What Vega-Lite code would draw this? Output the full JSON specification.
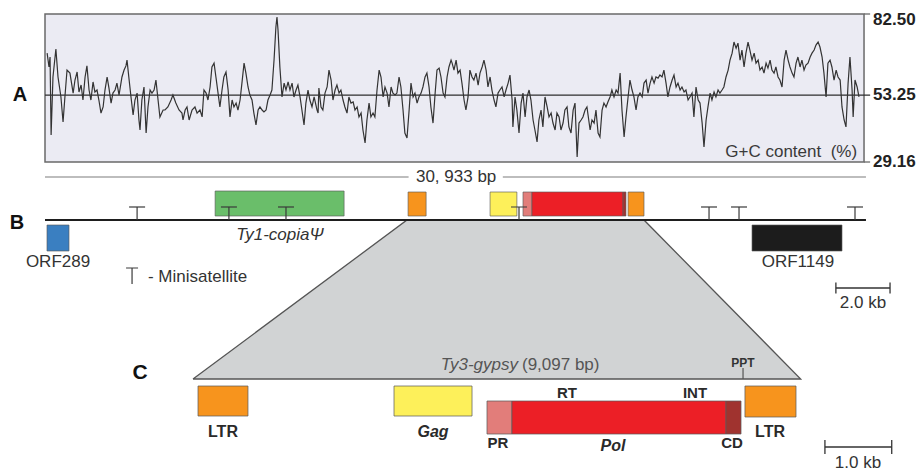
{
  "$schema": "https://vega.github.io/schema/vega-lite/v6.json",
  "width": 921,
  "height": 473,
  "padding": 0,
  "autosize": {"type": "none"},
  "background": "#ffffff",
  "config": {"view": {"stroke": null}, "font": "Liberation Sans", "axis": {"disable": true}},
  "datasets": {
    "gc": [
      {"kb":0.08,"gc":68.4},{"kb":0.15,"gc":63.4},{"kb":0.19,"gc":67.0},{"kb":0.23,"gc":38.9},{"kb":0.30,"gc":59.8},{"kb":0.41,"gc":69.9},{"kb":0.49,"gc":59.8},{"kb":0.60,"gc":52.6},{"kb":0.68,"gc":43.6},{"kb":0.75,"gc":52.6},{"kb":0.83,"gc":62.3},{"kb":0.94,"gc":61.2},{"kb":1.06,"gc":54.0},{"kb":1.13,"gc":58.7},{"kb":1.21,"gc":61.6},{"kb":1.28,"gc":54.4},{"kb":1.36,"gc":56.9},{"kb":1.43,"gc":51.5},{"kb":1.51,"gc":59.8},{"kb":1.58,"gc":63.8},{"kb":1.66,"gc":55.1},{"kb":1.73,"gc":51.5},{"kb":1.81,"gc":58.0},{"kb":1.88,"gc":54.4},{"kb":1.96,"gc":55.1},{"kb":2.03,"gc":51.5},{"kb":2.11,"gc":46.8},{"kb":2.19,"gc":49.0},{"kb":2.26,"gc":55.1},{"kb":2.34,"gc":59.8},{"kb":2.41,"gc":55.8},{"kb":2.49,"gc":50.4},{"kb":2.56,"gc":54.0},{"kb":2.64,"gc":55.1},{"kb":2.71,"gc":57.6},{"kb":2.79,"gc":53.3},{"kb":2.90,"gc":59.8},{"kb":2.98,"gc":62.3},{"kb":3.05,"gc":63.8},{"kb":3.09,"gc":65.9},{"kb":3.17,"gc":58.7},{"kb":3.24,"gc":52.6},{"kb":3.32,"gc":46.1},{"kb":3.39,"gc":51.5},{"kb":3.47,"gc":54.0},{"kb":3.54,"gc":44.3},{"kb":3.58,"gc":40.7},{"kb":3.65,"gc":51.5},{"kb":3.73,"gc":56.2},{"kb":3.81,"gc":39.6},{"kb":3.88,"gc":49.0},{"kb":3.96,"gc":55.1},{"kb":4.03,"gc":54.0},{"kb":4.11,"gc":55.1},{"kb":4.18,"gc":58.7},{"kb":4.26,"gc":51.5},{"kb":4.33,"gc":45.4},{"kb":4.45,"gc":47.9},{"kb":4.52,"gc":47.9},{"kb":4.63,"gc":49.0},{"kb":4.75,"gc":51.5},{"kb":4.82,"gc":53.3},{"kb":4.93,"gc":50.4},{"kb":5.05,"gc":47.9},{"kb":5.16,"gc":46.8},
      {"kb":5.20,"gc":44.3},{"kb":5.28,"gc":47.9},{"kb":5.35,"gc":49.0},{"kb":5.43,"gc":44.3},{"kb":5.54,"gc":47.9},{"kb":5.65,"gc":49.0},{"kb":5.73,"gc":46.8},{"kb":5.84,"gc":47.9},{"kb":5.92,"gc":45.4},{"kb":5.99,"gc":55.1},{"kb":6.07,"gc":54.0},{"kb":6.14,"gc":51.5},{"kb":6.22,"gc":56.2},{"kb":6.29,"gc":63.4},{"kb":6.37,"gc":64.8},{"kb":6.44,"gc":59.8},{"kb":6.52,"gc":54.0},{"kb":6.59,"gc":49.0},{"kb":6.67,"gc":55.1},{"kb":6.74,"gc":59.8},{"kb":6.82,"gc":61.6},{"kb":6.90,"gc":55.1},{"kb":6.97,"gc":45.4},{"kb":7.05,"gc":51.5},{"kb":7.12,"gc":49.0},{"kb":7.20,"gc":50.4},{"kb":7.27,"gc":47.9},{"kb":7.35,"gc":51.5},{"kb":7.42,"gc":57.6},{"kb":7.50,"gc":64.8},{"kb":7.57,"gc":61.2},{"kb":7.65,"gc":56.2},{"kb":7.72,"gc":53.3},{"kb":7.80,"gc":51.5},{"kb":7.87,"gc":46.8},{"kb":7.95,"gc":42.5},{"kb":8.03,"gc":47.9},{"kb":8.10,"gc":49.0},{"kb":8.18,"gc":47.9},{"kb":8.25,"gc":47.2},{"kb":8.33,"gc":47.9},{"kb":8.40,"gc":51.5},{"kb":8.48,"gc":53.3},{"kb":8.55,"gc":55.1},{"kb":8.63,"gc":65.9},{"kb":8.70,"gc":77.8},{"kb":8.74,"gc":81.4},{"kb":8.78,"gc":76.7},{"kb":8.85,"gc":63.4},{"kb":8.93,"gc":52.6},{"kb":9.01,"gc":57.6},{"kb":9.08,"gc":55.1},{"kb":9.16,"gc":58.0},{"kb":9.23,"gc":55.1},{"kb":9.31,"gc":57.6},{"kb":9.38,"gc":52.6},{"kb":9.46,"gc":55.1},{"kb":9.53,"gc":56.9},{"kb":9.61,"gc":52.6},{"kb":9.68,"gc":47.9},{"kb":9.76,"gc":42.5},{"kb":9.83,"gc":50.4},{"kb":9.91,"gc":55.1},{"kb":9.98,"gc":51.5},{"kb":10.06,"gc":49.0},{"kb":10.14,"gc":52.6},{"kb":10.25,"gc":47.9},
      {"kb":10.29,"gc":46.8},{"kb":10.32,"gc":55.8},{"kb":10.40,"gc":49.0},{"kb":10.47,"gc":47.9},{"kb":10.55,"gc":54.0},{"kb":10.63,"gc":56.2},{"kb":10.70,"gc":62.3},{"kb":10.78,"gc":58.7},{"kb":10.85,"gc":51.5},{"kb":10.93,"gc":55.1},{"kb":11.00,"gc":56.9},{"kb":11.08,"gc":54.0},{"kb":11.15,"gc":55.1},{"kb":11.23,"gc":51.5},{"kb":11.30,"gc":49.0},{"kb":11.38,"gc":46.8},{"kb":11.45,"gc":52.6},{"kb":11.53,"gc":50.4},{"kb":11.61,"gc":50.8},{"kb":11.68,"gc":47.9},{"kb":11.76,"gc":49.0},{"kb":11.83,"gc":45.4},{"kb":11.91,"gc":46.8},{"kb":11.98,"gc":40.7},{"kb":12.06,"gc":36.0},{"kb":12.13,"gc":44.3},{"kb":12.21,"gc":50.4},{"kb":12.28,"gc":45.4},{"kb":12.36,"gc":46.8},{"kb":12.43,"gc":45.4},{"kb":12.51,"gc":55.1},{"kb":12.59,"gc":62.3},{"kb":12.66,"gc":59.8},{"kb":12.74,"gc":52.6},{"kb":12.81,"gc":56.2},{"kb":12.89,"gc":54.0},{"kb":12.96,"gc":49.0},{"kb":13.04,"gc":56.2},{"kb":13.11,"gc":54.0},{"kb":13.19,"gc":53.3},{"kb":13.26,"gc":54.0},{"kb":13.34,"gc":59.8},{"kb":13.41,"gc":56.2},{"kb":13.49,"gc":47.9},{"kb":13.56,"gc":39.6},{"kb":13.64,"gc":37.8},{"kb":13.72,"gc":47.9},{"kb":13.79,"gc":57.6},{"kb":13.87,"gc":52.6},{"kb":13.94,"gc":54.0},{"kb":14.02,"gc":50.4},{"kb":14.09,"gc":52.6},{"kb":14.17,"gc":54.0},{"kb":14.24,"gc":56.2},{"kb":14.32,"gc":59.8},{"kb":14.39,"gc":61.2},{"kb":14.47,"gc":56.2},{"kb":14.54,"gc":49.0},{"kb":14.62,"gc":43.2},{"kb":14.70,"gc":54.0},{"kb":14.77,"gc":62.3},{"kb":14.85,"gc":63.0},{"kb":14.92,"gc":59.8},{"kb":15.00,"gc":54.0},{"kb":15.07,"gc":52.6},{"kb":15.15,"gc":59.8},{"kb":15.22,"gc":63.4},{"kb":15.30,"gc":65.9},
      {"kb":15.34,"gc":64.8},{"kb":15.41,"gc":62.3},{"kb":15.49,"gc":65.9},{"kb":15.56,"gc":61.2},{"kb":15.64,"gc":62.3},{"kb":15.71,"gc":57.6},{"kb":15.79,"gc":51.5},{"kb":15.86,"gc":47.9},{"kb":15.94,"gc":52.6},{"kb":16.01,"gc":62.3},{"kb":16.09,"gc":59.8},{"kb":16.16,"gc":58.7},{"kb":16.24,"gc":61.2},{"kb":16.32,"gc":56.9},{"kb":16.39,"gc":61.2},{"kb":16.47,"gc":63.4},{"kb":16.54,"gc":65.9},{"kb":16.62,"gc":62.3},{"kb":16.69,"gc":56.2},{"kb":16.77,"gc":59.8},{"kb":16.84,"gc":55.1},{"kb":16.92,"gc":51.5},{"kb":16.99,"gc":49.0},{"kb":17.07,"gc":54.0},{"kb":17.14,"gc":55.1},{"kb":17.22,"gc":56.2},{"kb":17.30,"gc":52.6},{"kb":17.37,"gc":55.1},{"kb":17.45,"gc":57.6},{"kb":17.52,"gc":60.5},{"kb":17.60,"gc":51.5},{"kb":17.63,"gc":41.8},{"kb":17.71,"gc":52.6},{"kb":17.78,"gc":47.9},{"kb":17.86,"gc":39.6},{"kb":17.94,"gc":50.4},{"kb":18.01,"gc":54.0},{"kb":18.09,"gc":45.4},{"kb":18.16,"gc":52.6},{"kb":18.24,"gc":55.1},{"kb":18.31,"gc":51.5},{"kb":18.39,"gc":44.3},{"kb":18.46,"gc":40.7},{"kb":18.54,"gc":36.4},{"kb":18.61,"gc":44.3},{"kb":18.69,"gc":47.9},{"kb":18.76,"gc":41.8},{"kb":18.84,"gc":52.6},{"kb":18.92,"gc":49.0},{"kb":18.99,"gc":45.4},{"kb":19.07,"gc":46.8},{"kb":19.14,"gc":43.2},{"kb":19.22,"gc":40.7},{"kb":19.29,"gc":46.8},{"kb":19.37,"gc":45.4},{"kb":19.44,"gc":40.7},{"kb":19.52,"gc":43.2},{"kb":19.59,"gc":47.9},{"kb":19.67,"gc":49.0},{"kb":19.74,"gc":41.8},{"kb":19.82,"gc":39.6},{"kb":19.90,"gc":47.9},{"kb":19.97,"gc":50.4},{"kb":20.05,"gc":31.0},{"kb":20.12,"gc":43.2},{"kb":20.20,"gc":44.3},{"kb":20.27,"gc":45.4},{"kb":20.35,"gc":47.9},{"kb":20.42,"gc":49.0},
      {"kb":20.54,"gc":40.7},{"kb":20.61,"gc":44.3},{"kb":20.69,"gc":43.2},{"kb":20.76,"gc":47.9},{"kb":20.84,"gc":39.6},{"kb":20.91,"gc":38.2},{"kb":20.99,"gc":47.9},{"kb":21.06,"gc":50.4},{"kb":21.14,"gc":49.0},{"kb":21.21,"gc":50.8},{"kb":21.29,"gc":52.6},{"kb":21.36,"gc":55.1},{"kb":21.44,"gc":52.6},{"kb":21.52,"gc":55.1},{"kb":21.59,"gc":54.0},{"kb":21.67,"gc":61.2},{"kb":21.74,"gc":47.9},{"kb":21.82,"gc":38.2},{"kb":21.89,"gc":45.4},{"kb":21.97,"gc":52.6},{"kb":22.04,"gc":58.7},{"kb":22.12,"gc":55.1},{"kb":22.19,"gc":52.6},{"kb":22.27,"gc":47.9},{"kb":22.34,"gc":52.6},{"kb":22.42,"gc":54.0},{"kb":22.50,"gc":52.6},{"kb":22.57,"gc":57.6},{"kb":22.65,"gc":58.7},{"kb":22.72,"gc":54.0},{"kb":22.80,"gc":57.6},{"kb":22.87,"gc":59.8},{"kb":22.95,"gc":57.6},{"kb":23.02,"gc":59.8},{"kb":23.10,"gc":59.4},{"kb":23.17,"gc":60.5},{"kb":23.25,"gc":59.8},{"kb":23.32,"gc":62.3},{"kb":23.40,"gc":57.6},{"kb":23.47,"gc":52.6},{"kb":23.55,"gc":56.2},{"kb":23.63,"gc":58.7},{"kb":23.70,"gc":60.5},{"kb":23.78,"gc":56.2},{"kb":23.85,"gc":57.6},{"kb":23.93,"gc":55.1},{"kb":24.00,"gc":56.2},{"kb":24.08,"gc":54.4},{"kb":24.15,"gc":55.1},{"kb":24.23,"gc":51.5},{"kb":24.30,"gc":52.6},{"kb":24.38,"gc":54.0},{"kb":24.45,"gc":45.4},{"kb":24.53,"gc":56.2},{"kb":24.61,"gc":51.5},{"kb":24.68,"gc":50.4},{"kb":24.76,"gc":43.2},{"kb":24.83,"gc":34.6},{"kb":24.91,"gc":44.3},{"kb":24.98,"gc":49.0},{"kb":25.06,"gc":54.0},{"kb":25.13,"gc":51.5},{"kb":25.21,"gc":54.4},{"kb":25.28,"gc":52.6},{"kb":25.36,"gc":55.1},{"kb":25.43,"gc":54.0},{"kb":25.51,"gc":55.1},{"kb":25.58,"gc":56.2},
      {"kb":25.66,"gc":59.8},{"kb":25.74,"gc":62.3},{"kb":25.81,"gc":65.9},{"kb":25.89,"gc":68.4},{"kb":25.96,"gc":72.4},{"kb":26.04,"gc":70.2},{"kb":26.11,"gc":72.0},{"kb":26.19,"gc":65.9},{"kb":26.26,"gc":69.5},{"kb":26.34,"gc":63.4},{"kb":26.41,"gc":68.4},{"kb":26.49,"gc":72.4},{"kb":26.56,"gc":69.5},{"kb":26.64,"gc":65.9},{"kb":26.72,"gc":68.4},{"kb":26.79,"gc":64.8},{"kb":26.87,"gc":65.9},{"kb":26.94,"gc":62.3},{"kb":27.02,"gc":63.4},{"kb":27.09,"gc":61.2},{"kb":27.17,"gc":64.8},{"kb":27.24,"gc":63.0},{"kb":27.32,"gc":65.9},{"kb":27.39,"gc":62.3},{"kb":27.47,"gc":61.2},{"kb":27.54,"gc":63.4},{"kb":27.62,"gc":59.8},{"kb":27.69,"gc":58.7},{"kb":27.77,"gc":56.2},{"kb":27.85,"gc":65.9},{"kb":27.92,"gc":69.5},{"kb":28.00,"gc":65.9},{"kb":28.07,"gc":63.4},{"kb":28.15,"gc":61.2},{"kb":28.22,"gc":59.8},{"kb":28.30,"gc":64.8},{"kb":28.37,"gc":67.0},{"kb":28.45,"gc":63.4},{"kb":28.52,"gc":65.9},{"kb":28.60,"gc":62.3},{"kb":28.67,"gc":64.1},{"kb":28.75,"gc":64.8},{"kb":28.83,"gc":67.0},{"kb":28.90,"gc":68.4},{"kb":28.98,"gc":69.5},{"kb":29.05,"gc":71.3},{"kb":29.13,"gc":72.4},{"kb":29.20,"gc":70.6},{"kb":29.28,"gc":67.0},{"kb":29.35,"gc":61.2},{"kb":29.43,"gc":52.6},{"kb":29.50,"gc":64.8},{"kb":29.58,"gc":65.9},{"kb":29.65,"gc":63.4},{"kb":29.73,"gc":58.7},{"kb":29.81,"gc":62.3},{"kb":29.88,"gc":59.8},{"kb":29.96,"gc":58.7},{"kb":30.03,"gc":49.0},{"kb":30.11,"gc":44.3},{"kb":30.18,"gc":41.8},{"kb":30.26,"gc":57.6},{"kb":30.33,"gc":67.0},{"kb":30.41,"gc":55.1},{"kb":30.45,"gc":45.4},{"kb":30.52,"gc":58.7},{"kb":30.60,"gc":56.2},{"kb":30.67,"gc":52.6}
    ],
    "panelA": [{"s": 0, "e": 30.86, "lo": 29.16, "hi": 82.5}],
    "gcTicks": [{"s": 30.86, "e": 31.09, "v": 82.5}, {"s": 30.86, "e": 31.09, "v": 29.16}],
    "gcMid": [{"s": 0, "e": 31.09, "v": 53.25}],
    "gcLabels": [{"v": 82.5, "t": "82.50"}, {"v": 53.25, "t": "53.25"}, {"v": 29.16, "t": "29.16"}],
    "aLetter": [{"x": -0.94, "y": 53.25, "t": "A"}],
    "gcTitle": [{"x": 30.6, "y": 32.76, "t": "G+C content\u00a0 (%)"}],
    "trap": [{"x": 0, "top": -15.9, "base": -15.9}, {"x": 3.204, "top": 0, "base": -15.9}, {"x": 6.751, "top": 0, "base": -15.9}, {"x": 9.097, "top": -15.9, "base": -15.9}],
    "trapEdge": [{"i": 1, "x": 0, "y": -15.9}, {"i": 2, "x": 3.204, "y": 0}, {"i": 3, "x": 6.751, "y": 0}, {"i": 4, "x": 9.097, "y": -15.9}, {"i": 5, "x": 0, "y": -15.9}],
    "backbone": [{"s": 0, "e": 30.933, "y": 0}],
    "lengthLine": [{"s": 0, "e": 13.7, "y": 4.3}, {"s": 17.25, "e": 30.933, "y": 4.3}],
    "bFeatures": [
      {"feat": "ORF289", "start": 0.075, "end": 0.904, "top": -0.5, "bot": -3.1},
      {"feat": "Ty1", "start": 6.41, "end": 11.27, "top": 2.9, "bot": 0.4},
      {"feat": "LTR", "start": 13.68, "end": 14.36, "top": 2.8, "bot": 0.4},
      {"feat": "Gag", "start": 16.77, "end": 17.78, "top": 2.8, "bot": 0.4},
      {"feat": "PR", "start": 18.01, "end": 18.35, "top": 2.8, "bot": 0.4},
      {"feat": "Pol", "start": 18.35, "end": 21.78, "top": 2.8, "bot": 0.4},
      {"feat": "CD", "start": 21.78, "end": 21.89, "top": 2.8, "bot": 0.4},
      {"feat": "LTR", "start": 21.97, "end": 22.57, "top": 2.8, "bot": 0.4},
      {"feat": "ORF1149", "start": 26.64, "end": 30.03, "top": -0.5, "bot": -3.1}
    ],
    "minisat": [{"pos": 3.47}, {"pos": 6.93}, {"pos": 9.08}, {"pos": 17.86}, {"pos": 25.02}, {"pos": 26.15}, {"pos": 30.52}],
    "msLegend": [{"x": 3.28, "top": -4.8, "bot": -6.4}],
    "bScale": [{"s": 29.8, "e": 31.84, "y": -6.8}],
    "bLetter": [{"x": -1.055, "y": -0.25, "t": "B"}],
    "bLabels": [{"x": 15.49, "y": 4.3, "t": "30, 933 bp"}, {"x": 0.49, "y": -4.2, "t": "ORF289"}, {"x": 28.37, "y": -4.2, "t": "ORF1149"}, {"x": 30.82, "y": -8.3, "t": "2.0 kb"}],
    "bItalic": [{"x": 8.85, "y": -1.5, "t": "Ty1-copiaΨ"}],
    "bLegendText": [{"x": 3.88, "y": -5.7, "t": "- Minisatellite"}],
    "cFeatures": [
      {"feat": "LTR", "start": 0.075, "end": 0.823, "top": -16.6, "bot": -19.6},
      {"feat": "Gag", "start": 3.009, "end": 4.177, "top": -16.6, "bot": -19.6},
      {"feat": "PR", "start": 4.401, "end": 4.775, "top": -18.1, "bot": -21.4},
      {"feat": "Pol", "start": 4.775, "end": 7.979, "top": -18.1, "bot": -21.4},
      {"feat": "CD", "start": 7.979, "end": 8.204, "top": -18.1, "bot": -21.4},
      {"feat": "LTR", "start": 8.263, "end": 9.027, "top": -16.6, "bot": -19.7}
    ],
    "ppt": [{"x": 8.234, "top": -14.8, "bot": -15.9}],
    "cScale": [{"s": 9.46, "e": 10.46, "y": -22.7}],
    "cLetter": [{"x": -0.793, "y": -15.3, "t": "C"}],
    "cTitleItalic": [{"x": 4.865, "y": -14.5, "t": "Ty3-gypsy"}],
    "cTitle": [{"x": 4.925, "y": -14.5, "t": "(9,097 bp)"}],
    "cBold15": [{"x": 5.599, "y": -17.3, "t": "RT"}, {"x": 7.515, "y": -17.3, "t": "INT"}, {"x": 4.566, "y": -22.3, "t": "PR"}, {"x": 8.069, "y": -22.3, "t": "CD"}],
    "cBold16": [{"x": 0.449, "y": -21.2, "t": "LTR"}, {"x": 8.638, "y": -21.2, "t": "LTR"}],
    "cBoldItalic": [{"x": 3.593, "y": -21.2, "t": "Gag"}, {"x": 6.287, "y": -22.6, "t": "Pol"}],
    "cSmall": [{"x": 8.234, "y": -14.3, "t": "PPT"}],
    "cReg": [{"x": 9.955, "y": -24.3, "t": "1.0 kb"}]
  },
  "resolve": {"scale": {"x": "independent", "y": "independent"}},
  "layer": [
    {
      "layer": [
        {"data": {"name": "panelA"}, "mark": {"type": "rect", "fill": "#ebebf3", "stroke": "#6a6a6a", "strokeWidth": 1.5},
         "encoding": {"x": {"field": "s", "type": "quantitative", "scale": {"domain": [-1.6956, 33.0068], "nice": false, "zero": false}, "axis": null}, "x2": {"field": "e"},
                      "y": {"field": "lo", "type": "quantitative", "scale": {"domain": [-82.92, 87.546], "nice": false, "zero": false}, "axis": null}, "y2": {"field": "hi"}}},
        {"data": {"name": "gcTicks"}, "mark": {"type": "rule", "stroke": "#6a6a6a", "strokeWidth": 1.3},
         "encoding": {"x": {"field": "s", "type": "quantitative", "scale": {"domain": [-1.6956, 33.0068], "nice": false, "zero": false}, "axis": null}, "x2": {"field": "e"},
                      "y": {"field": "v", "type": "quantitative", "scale": {"domain": [-82.92, 87.546], "nice": false, "zero": false}, "axis": null}}},
        {"data": {"name": "gcMid"}, "mark": {"type": "rule", "stroke": "#2e2e2e", "strokeWidth": 1.3},
         "encoding": {"x": {"field": "s", "type": "quantitative", "scale": {"domain": [-1.6956, 33.0068], "nice": false, "zero": false}, "axis": null}, "x2": {"field": "e"},
                      "y": {"field": "v", "type": "quantitative", "scale": {"domain": [-82.92, 87.546], "nice": false, "zero": false}, "axis": null}}},
        {"data": {"name": "gc"}, "mark": {"type": "line", "stroke": "#333333", "strokeWidth": 1.2},
         "encoding": {"x": {"field": "kb", "type": "quantitative", "scale": {"domain": [-1.6956, 33.0068], "nice": false, "zero": false}, "axis": null},
                      "y": {"field": "gc", "type": "quantitative", "scale": {"domain": [-82.92, 87.546], "nice": false, "zero": false}, "axis": null}}},
        {"data": {"name": "gcLabels"}, "transform": [{"filter": "datum.v > 80"}],
         "mark": {"type": "text", "font": "Liberation Sans", "fontWeight": "bold", "fontSize": 17, "align": "left", "baseline": "middle", "dy": 6, "fill": "#222222"},
         "encoding": {"x": {"datum": 31.2, "type": "quantitative", "scale": {"domain": [-1.6956, 33.0068], "nice": false, "zero": false}, "axis": null},
                      "y": {"field": "v", "type": "quantitative", "scale": {"domain": [-82.92, 87.546], "nice": false, "zero": false}, "axis": null}, "text": {"field": "t"}}},
        {"data": {"name": "gcLabels"}, "transform": [{"filter": "datum.v < 80"}],
         "mark": {"type": "text", "font": "Liberation Sans", "fontWeight": "bold", "fontSize": 17, "align": "left", "baseline": "middle", "fill": "#222222"},
         "encoding": {"x": {"datum": 31.2, "type": "quantitative", "scale": {"domain": [-1.6956, 33.0068], "nice": false, "zero": false}, "axis": null},
                      "y": {"field": "v", "type": "quantitative", "scale": {"domain": [-82.92, 87.546], "nice": false, "zero": false}, "axis": null}, "text": {"field": "t"}}},
        {"data": {"name": "aLetter"},
         "mark": {"type": "text", "font": "Liberation Sans", "fontWeight": "bold", "fontSize": 20, "align": "center", "baseline": "middle", "fill": "#111111"},
         "encoding": {"x": {"field": "x", "type": "quantitative", "scale": {"domain": [-1.6956, 33.0068], "nice": false, "zero": false}, "axis": null},
                      "y": {"field": "y", "type": "quantitative", "scale": {"domain": [-82.92, 87.546], "nice": false, "zero": false}, "axis": null}, "text": {"field": "t"}}},
        {"data": {"name": "gcTitle"},
         "mark": {"type": "text", "font": "Liberation Sans", "fontSize": 17, "align": "right", "baseline": "middle", "fill": "#3a3a3a"},
         "encoding": {"x": {"field": "x", "type": "quantitative", "scale": {"domain": [-1.6956, 33.0068], "nice": false, "zero": false}, "axis": null},
                      "y": {"field": "y", "type": "quantitative", "scale": {"domain": [-82.92, 87.546], "nice": false, "zero": false}, "axis": null}, "text": {"field": "t"}}}
      ]
    },
    {
      "layer": [
        {"data": {"name": "trap"}, "mark": {"type": "area", "fill": "#d1d3d4", "interpolate": "linear"},
         "encoding": {"x": {"field": "x", "type": "quantitative", "scale": {"domain": [-2.8892, 10.8982], "nice": false, "zero": false}, "axis": null},
                      "y": {"field": "top", "type": "quantitative", "scale": {"domain": [-25.3, 22], "nice": false, "zero": false}, "axis": null}, "y2": {"field": "base"}}},
        {"data": {"name": "trapEdge"}, "mark": {"type": "line", "stroke": "#555555", "strokeWidth": 1.3},
         "encoding": {"x": {"field": "x", "type": "quantitative", "scale": {"domain": [-2.8892, 10.8982], "nice": false, "zero": false}, "axis": null},
                      "y": {"field": "y", "type": "quantitative", "scale": {"domain": [-25.3, 22], "nice": false, "zero": false}, "axis": null}, "order": {"field": "i", "type": "quantitative"}}}
      ]
    },
    {
      "layer": [
        {"data": {"name": "lengthLine"}, "mark": {"type": "rule", "stroke": "#7d7d7d", "strokeWidth": 1.2},
         "encoding": {"x": {"field": "s", "type": "quantitative", "scale": {"domain": [-1.6956, 33.0068], "nice": false, "zero": false}, "axis": null}, "x2": {"field": "e"},
                      "y": {"field": "y", "type": "quantitative", "scale": {"domain": [-25.3, 22], "nice": false, "zero": false}, "axis": null}}},
        {"data": {"name": "backbone"}, "mark": {"type": "rule", "stroke": "#1e1e1e", "strokeWidth": 2},
         "encoding": {"x": {"field": "s", "type": "quantitative", "scale": {"domain": [-1.6956, 33.0068], "nice": false, "zero": false}, "axis": null}, "x2": {"field": "e"},
                      "y": {"field": "y", "type": "quantitative", "scale": {"domain": [-25.3, 22], "nice": false, "zero": false}, "axis": null}}},
        {"data": {"name": "bFeatures"}, "mark": {"type": "rect", "stroke": "#5a5a5a", "strokeWidth": 0.8, "strokeOpacity": 0.8},
         "encoding": {"x": {"field": "start", "type": "quantitative", "scale": {"domain": [-1.6956, 33.0068], "nice": false, "zero": false}, "axis": null}, "x2": {"field": "end"},
                      "y": {"field": "top", "type": "quantitative", "scale": {"domain": [-25.3, 22], "nice": false, "zero": false}, "axis": null}, "y2": {"field": "bot"},
                      "color": {"field": "feat", "type": "nominal", "legend": null, "scale": {"domain": ["ORF289", "Ty1", "LTR", "Gag", "PR", "Pol", "CD", "ORF1149"], "range": ["#3a7fc1", "#6abe6a", "#f7941d", "#fdf05a", "#e27d7a", "#ec1f26", "#a0332f", "#1c1c1c"]}}}},
        {"data": {"name": "minisat"}, "mark": {"type": "rule", "stroke": "#3a3a3a", "strokeWidth": 1.2},
         "encoding": {"x": {"field": "pos", "type": "quantitative", "scale": {"domain": [-1.6956, 33.0068], "nice": false, "zero": false}, "axis": null},
                      "y": {"datum": 0, "type": "quantitative", "scale": {"domain": [-25.3, 22], "nice": false, "zero": false}, "axis": null}, "y2": {"datum": 1.3}}},
        {"data": {"name": "minisat"}, "mark": {"type": "tick", "orient": "horizontal", "size": 16, "thickness": 1.2, "color": "#3a3a3a", "opacity": 1},
         "encoding": {"x": {"field": "pos", "type": "quantitative", "scale": {"domain": [-1.6956, 33.0068], "nice": false, "zero": false}, "axis": null},
                      "y": {"datum": 1.3, "type": "quantitative", "scale": {"domain": [-25.3, 22], "nice": false, "zero": false}, "axis": null}}},
        {"data": {"name": "msLegend"}, "mark": {"type": "rule", "stroke": "#3a3a3a", "strokeWidth": 1.2},
         "encoding": {"x": {"field": "x", "type": "quantitative", "scale": {"domain": [-1.6956, 33.0068], "nice": false, "zero": false}, "axis": null},
                      "y": {"field": "top", "type": "quantitative", "scale": {"domain": [-25.3, 22], "nice": false, "zero": false}, "axis": null}, "y2": {"field": "bot"}}},
        {"data": {"name": "msLegend"}, "mark": {"type": "tick", "orient": "horizontal", "size": 12, "thickness": 1.2, "color": "#3a3a3a", "opacity": 1},
         "encoding": {"x": {"field": "x", "type": "quantitative", "scale": {"domain": [-1.6956, 33.0068], "nice": false, "zero": false}, "axis": null},
                      "y": {"field": "top", "type": "quantitative", "scale": {"domain": [-25.3, 22], "nice": false, "zero": false}, "axis": null}}},
        {"data": {"name": "bScale"}, "mark": {"type": "rule", "stroke": "#333333", "strokeWidth": 1.3},
         "encoding": {"x": {"field": "s", "type": "quantitative", "scale": {"domain": [-1.6956, 33.0068], "nice": false, "zero": false}, "axis": null}, "x2": {"field": "e"},
                      "y": {"field": "y", "type": "quantitative", "scale": {"domain": [-25.3, 22], "nice": false, "zero": false}, "axis": null}}},
        {"data": {"name": "bScale"}, "mark": {"type": "tick", "orient": "vertical", "size": 11, "thickness": 1.3, "color": "#333333", "opacity": 1},
         "encoding": {"x": {"field": "s", "type": "quantitative", "scale": {"domain": [-1.6956, 33.0068], "nice": false, "zero": false}, "axis": null},
                      "y": {"field": "y", "type": "quantitative", "scale": {"domain": [-25.3, 22], "nice": false, "zero": false}, "axis": null}}},
        {"data": {"name": "bScale"}, "mark": {"type": "tick", "orient": "vertical", "size": 11, "thickness": 1.3, "color": "#333333", "opacity": 1},
         "encoding": {"x": {"field": "e", "type": "quantitative", "scale": {"domain": [-1.6956, 33.0068], "nice": false, "zero": false}, "axis": null},
                      "y": {"field": "y", "type": "quantitative", "scale": {"domain": [-25.3, 22], "nice": false, "zero": false}, "axis": null}}},
        {"data": {"name": "bLetter"},
         "mark": {"type": "text", "font": "Liberation Sans", "fontWeight": "bold", "fontSize": 20, "align": "center", "baseline": "middle", "fill": "#111111"},
         "encoding": {"x": {"field": "x", "type": "quantitative", "scale": {"domain": [-1.6956, 33.0068], "nice": false, "zero": false}, "axis": null},
                      "y": {"field": "y", "type": "quantitative", "scale": {"domain": [-25.3, 22], "nice": false, "zero": false}, "axis": null}, "text": {"field": "t"}}},
        {"data": {"name": "bLabels"},
         "mark": {"type": "text", "font": "Liberation Sans", "fontSize": 17, "align": "center", "baseline": "middle", "fill": "#333333"},
         "encoding": {"x": {"field": "x", "type": "quantitative", "scale": {"domain": [-1.6956, 33.0068], "nice": false, "zero": false}, "axis": null},
                      "y": {"field": "y", "type": "quantitative", "scale": {"domain": [-25.3, 22], "nice": false, "zero": false}, "axis": null}, "text": {"field": "t"}}},
        {"data": {"name": "bItalic"},
         "mark": {"type": "text", "font": "Liberation Sans", "fontStyle": "italic", "fontSize": 17, "align": "center", "baseline": "middle", "fill": "#333333"},
         "encoding": {"x": {"field": "x", "type": "quantitative", "scale": {"domain": [-1.6956, 33.0068], "nice": false, "zero": false}, "axis": null},
                      "y": {"field": "y", "type": "quantitative", "scale": {"domain": [-25.3, 22], "nice": false, "zero": false}, "axis": null}, "text": {"field": "t"}}},
        {"data": {"name": "bLegendText"},
         "mark": {"type": "text", "font": "Liberation Sans", "fontSize": 17, "align": "left", "baseline": "middle", "fill": "#333333"},
         "encoding": {"x": {"field": "x", "type": "quantitative", "scale": {"domain": [-1.6956, 33.0068], "nice": false, "zero": false}, "axis": null},
                      "y": {"field": "y", "type": "quantitative", "scale": {"domain": [-25.3, 22], "nice": false, "zero": false}, "axis": null}, "text": {"field": "t"}}}
      ]
    },
    {
      "layer": [
        {"data": {"name": "cFeatures"}, "mark": {"type": "rect", "stroke": "#5a5a5a", "strokeWidth": 0.9, "strokeOpacity": 0.8},
         "encoding": {"x": {"field": "start", "type": "quantitative", "scale": {"domain": [-2.8892, 10.8982], "nice": false, "zero": false}, "axis": null}, "x2": {"field": "end"},
                      "y": {"field": "top", "type": "quantitative", "scale": {"domain": [-25.3, 22], "nice": false, "zero": false}, "axis": null}, "y2": {"field": "bot"},
                      "color": {"field": "feat", "type": "nominal", "legend": null, "scale": {"domain": ["ORF289", "Ty1", "LTR", "Gag", "PR", "Pol", "CD", "ORF1149"], "range": ["#3a7fc1", "#6abe6a", "#f7941d", "#fdf05a", "#e27d7a", "#ec1f26", "#a0332f", "#1c1c1c"]}}}},
        {"data": {"name": "ppt"}, "mark": {"type": "rule", "stroke": "#555555", "strokeWidth": 1.2},
         "encoding": {"x": {"field": "x", "type": "quantitative", "scale": {"domain": [-2.8892, 10.8982], "nice": false, "zero": false}, "axis": null},
                      "y": {"field": "top", "type": "quantitative", "scale": {"domain": [-25.3, 22], "nice": false, "zero": false}, "axis": null}, "y2": {"field": "bot"}}},
        {"data": {"name": "cScale"}, "mark": {"type": "rule", "stroke": "#333333", "strokeWidth": 1.3},
         "encoding": {"x": {"field": "s", "type": "quantitative", "scale": {"domain": [-2.8892, 10.8982], "nice": false, "zero": false}, "axis": null}, "x2": {"field": "e"},
                      "y": {"field": "y", "type": "quantitative", "scale": {"domain": [-25.3, 22], "nice": false, "zero": false}, "axis": null}}},
        {"data": {"name": "cScale"}, "mark": {"type": "tick", "orient": "vertical", "size": 14, "thickness": 1.3, "color": "#333333", "opacity": 1},
         "encoding": {"x": {"field": "s", "type": "quantitative", "scale": {"domain": [-2.8892, 10.8982], "nice": false, "zero": false}, "axis": null},
                      "y": {"field": "y", "type": "quantitative", "scale": {"domain": [-25.3, 22], "nice": false, "zero": false}, "axis": null}}},
        {"data": {"name": "cScale"}, "mark": {"type": "tick", "orient": "vertical", "size": 14, "thickness": 1.3, "color": "#333333", "opacity": 1},
         "encoding": {"x": {"field": "e", "type": "quantitative", "scale": {"domain": [-2.8892, 10.8982], "nice": false, "zero": false}, "axis": null},
                      "y": {"field": "y", "type": "quantitative", "scale": {"domain": [-25.3, 22], "nice": false, "zero": false}, "axis": null}}},
        {"data": {"name": "cLetter"},
         "mark": {"type": "text", "font": "Liberation Sans", "fontWeight": "bold", "fontSize": 21, "align": "center", "baseline": "middle", "fill": "#111111"},
         "encoding": {"x": {"field": "x", "type": "quantitative", "scale": {"domain": [-2.8892, 10.8982], "nice": false, "zero": false}, "axis": null},
                      "y": {"field": "y", "type": "quantitative", "scale": {"domain": [-25.3, 22], "nice": false, "zero": false}, "axis": null}, "text": {"field": "t"}}},
        {"data": {"name": "cTitleItalic"},
         "mark": {"type": "text", "font": "Liberation Sans", "fontStyle": "italic", "fontSize": 17, "align": "right", "baseline": "middle", "fill": "#555555"},
         "encoding": {"x": {"field": "x", "type": "quantitative", "scale": {"domain": [-2.8892, 10.8982], "nice": false, "zero": false}, "axis": null},
                      "y": {"field": "y", "type": "quantitative", "scale": {"domain": [-25.3, 22], "nice": false, "zero": false}, "axis": null}, "text": {"field": "t"}}},
        {"data": {"name": "cTitle"},
         "mark": {"type": "text", "font": "Liberation Sans", "fontSize": 17, "align": "left", "baseline": "middle", "fill": "#555555"},
         "encoding": {"x": {"field": "x", "type": "quantitative", "scale": {"domain": [-2.8892, 10.8982], "nice": false, "zero": false}, "axis": null},
                      "y": {"field": "y", "type": "quantitative", "scale": {"domain": [-25.3, 22], "nice": false, "zero": false}, "axis": null}, "text": {"field": "t"}}},
        {"data": {"name": "cBold15"},
         "mark": {"type": "text", "font": "Liberation Sans", "fontWeight": "bold", "fontSize": 15, "align": "center", "baseline": "middle", "fill": "#2a2a2a"},
         "encoding": {"x": {"field": "x", "type": "quantitative", "scale": {"domain": [-2.8892, 10.8982], "nice": false, "zero": false}, "axis": null},
                      "y": {"field": "y", "type": "quantitative", "scale": {"domain": [-25.3, 22], "nice": false, "zero": false}, "axis": null}, "text": {"field": "t"}}},
        {"data": {"name": "cBold16"},
         "mark": {"type": "text", "font": "Liberation Sans", "fontWeight": "bold", "fontSize": 16, "align": "center", "baseline": "middle", "fill": "#2a2a2a"},
         "encoding": {"x": {"field": "x", "type": "quantitative", "scale": {"domain": [-2.8892, 10.8982], "nice": false, "zero": false}, "axis": null},
                      "y": {"field": "y", "type": "quantitative", "scale": {"domain": [-25.3, 22], "nice": false, "zero": false}, "axis": null}, "text": {"field": "t"}}},
        {"data": {"name": "cBoldItalic"},
         "mark": {"type": "text", "font": "Liberation Sans", "fontWeight": "bold", "fontStyle": "italic", "fontSize": 16, "align": "center", "baseline": "middle", "fill": "#2a2a2a"},
         "encoding": {"x": {"field": "x", "type": "quantitative", "scale": {"domain": [-2.8892, 10.8982], "nice": false, "zero": false}, "axis": null},
                      "y": {"field": "y", "type": "quantitative", "scale": {"domain": [-25.3, 22], "nice": false, "zero": false}, "axis": null}, "text": {"field": "t"}}},
        {"data": {"name": "cSmall"},
         "mark": {"type": "text", "font": "Liberation Sans", "fontWeight": "bold", "fontSize": 12, "align": "center", "baseline": "middle", "fill": "#333333"},
         "encoding": {"x": {"field": "x", "type": "quantitative", "scale": {"domain": [-2.8892, 10.8982], "nice": false, "zero": false}, "axis": null},
                      "y": {"field": "y", "type": "quantitative", "scale": {"domain": [-25.3, 22], "nice": false, "zero": false}, "axis": null}, "text": {"field": "t"}}},
        {"data": {"name": "cReg"},
         "mark": {"type": "text", "font": "Liberation Sans", "fontSize": 17, "align": "center", "baseline": "middle", "fill": "#333333"},
         "encoding": {"x": {"field": "x", "type": "quantitative", "scale": {"domain": [-2.8892, 10.8982], "nice": false, "zero": false}, "axis": null},
                      "y": {"field": "y", "type": "quantitative", "scale": {"domain": [-25.3, 22], "nice": false, "zero": false}, "axis": null}, "text": {"field": "t"}}}
      ]
    }
  ]
}
